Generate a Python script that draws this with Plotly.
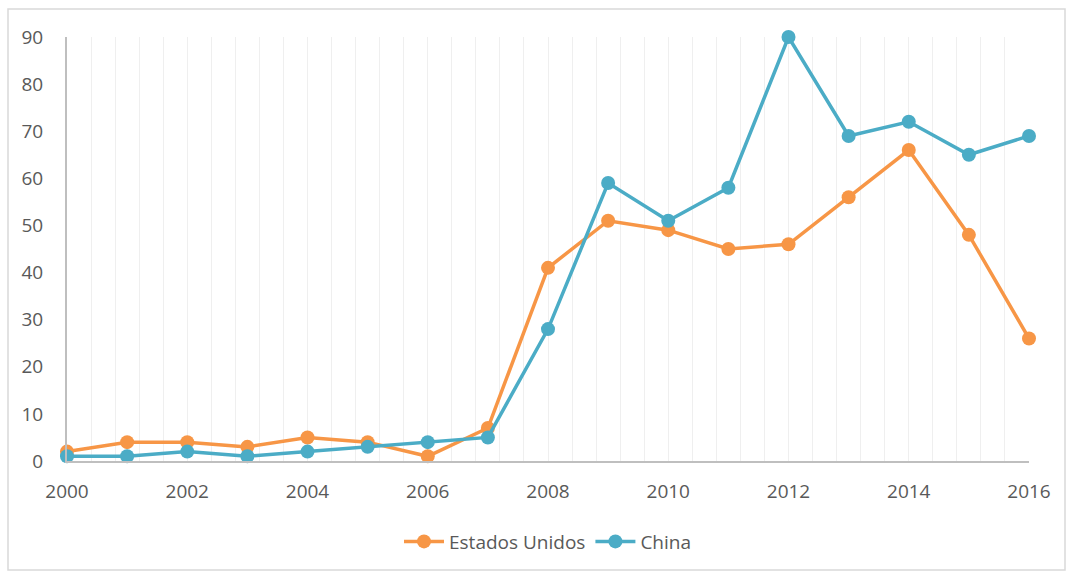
import plotly.graph_objects as go

years = list(range(2000, 2017))
estados_unidos = [2, 4, 4, 3, 5, 4, 1, 7, 41, 51, 49, 45, 46, 56, 66, 48, 26]
china = [1, 1, 2, 1, 2, 3, 4, 5, 28, 59, 51, 58, 90, 69, 72, 65, 69]
x_labels = list(range(2000, 2017, 2))

ORANGE = "#F79646"
BLUE = "#4BACC6"
TEXT = "#595959"
AXIS = "#BFBFBF"
GRID = "#EFEFEF"

# vertical grid every 0.4 years; only even years get a label
grid_steps = [2000 + 0.4 * i for i in range(41)]
grid_text = [str(int(round(v))) if abs(v - round(v)) < 1e-6 and int(round(v)) in x_labels else ""
             for v in grid_steps]

fig = go.Figure()
for name, vals, col in [("Estados Unidos", estados_unidos, ORANGE), ("China", china, BLUE)]:
    fig.add_trace(go.Scatter(
        x=years, y=vals, name=name, mode="lines+markers",
        line=dict(color=col, width=3.5),
        marker=dict(color=col, size=14),
        cliponaxis=False,
    ))

fig.update_layout(
    width=1066, height=572,
    margin=dict(l=67, r=37, t=37, b=111),
    paper_bgcolor="white", plot_bgcolor="white",
    font=dict(family="Open Sans", size=19, color=TEXT),
    showlegend=True,
    legend=dict(orientation="h", x=0.5, xanchor="center", y=-0.19, yanchor="middle",
                font=dict(size=19, color=TEXT), itemwidth=40),
    shapes=[dict(type="rect", xref="paper", yref="paper",
                 x0=(8 - 67) / 962, x1=(1065 - 67) / 962,
                 y0=(461 - 570) / 424, y1=(461 - 9) / 424,
                 line=dict(color="#D9D9D9", width=1.5), layer="below")],
)

fig.update_xaxes(
    range=[2000, 2016], tickmode="array", tickvals=grid_steps, ticktext=grid_text,
    ticks="", ticklen=0, ticklabelstandoff=12,
    showline=True, linecolor=AXIS, linewidth=2,
    showgrid=True, gridcolor=GRID, gridwidth=1.2,
    zeroline=False, tickfont=dict(size=19, color=TEXT),
)
fig.update_yaxes(
    range=[0, 90], dtick=10, ticks="", showgrid=False, ticklabelstandoff=18,
    showline=True, linecolor=AXIS, linewidth=2,
    zeroline=False, tickfont=dict(size=19, color=TEXT),
)

fig.write_html("out.html")
